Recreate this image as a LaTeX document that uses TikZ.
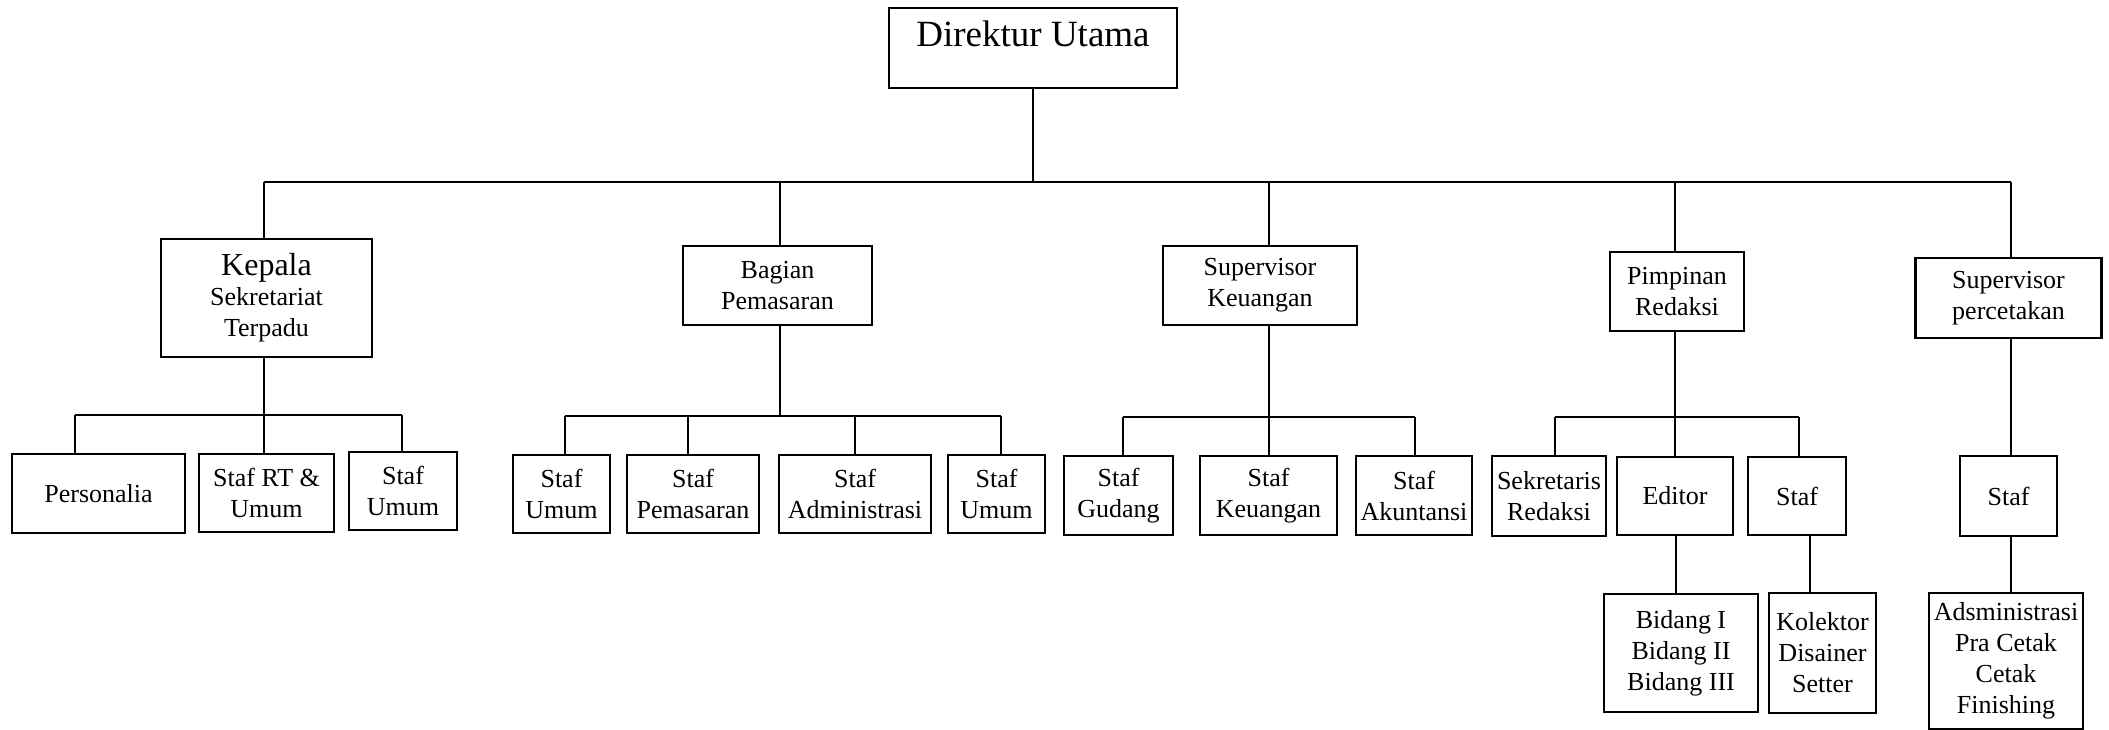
\documentclass[tikz,border=0pt]{standalone}
\usepackage{fontspec}
\setmainfont{Liberation Serif}
\begin{document}
\begin{tikzpicture}[x=1pt,y=-1pt,
  unit/.style={draw, line width=2.4pt, inner sep=0pt, align=center,
    font=\fontsize{26}{31}\selectfont},
  link/.style={line width=2pt}]
\useasboundingbox (0,0) rectangle (2109,730);

% ---- top ----
\node[unit, minimum width=288, minimum height=80] (dir) at (1033,48) {};
\node[font=\fontsize{37}{40}\selectfont, inner sep=0pt] (dirtext) at (1033,34) {Direktur Utama};

% ---- second level ----
\node[unit, minimum width=211, minimum height=118] (kep) at (266.5,298)
  {{\fontsize{32}{34}\selectfont Kepala}\\[-1pt]Sekretariat\\Terpadu};
\node[unit, minimum width=189, minimum height=79] (bag) at (777.5,285.5) {Bagian\\Pemasaran};
\node[unit, minimum width=194, minimum height=79] (sk) at (1260,285.5) {Supervisor\\Keuangan};
\node[unit, minimum width=134, minimum height=79] (pr) at (1677,291.5) {Pimpinan\\Redaksi};
\node[unit, minimum width=186, minimum height=80] (sp) at (2008.5,298) {Supervisor\\percetakan};

% ---- third level ----
\node[unit, minimum width=173, minimum height=79] (per) at (98.5,493.5) {Personalia};
\node[unit, minimum width=135, minimum height=78] (srt) at (266.5,493) {Staf RT \&\\Umum};
\node[unit, minimum width=108, minimum height=78] (su1) at (403,491) {Staf\\Umum};

\node[unit, minimum width=97, minimum height=78] (su2) at (561.5,494) {Staf\\Umum};
\node[unit, minimum width=132, minimum height=78] (spm) at (693,494) {Staf\\Pemasaran};
\node[unit, minimum width=152, minimum height=78] (sad) at (855,494) {Staf\\Administrasi};
\node[unit, minimum width=97, minimum height=78] (su3) at (996.5,494) {Staf\\Umum};

\node[unit, minimum width=109, minimum height=79] (sgd) at (1118.5,495.5) {Staf\\Gudang};
\node[unit, minimum width=137, minimum height=79] (skg) at (1268.5,495.5) {Staf\\Keuangan};
\node[unit, minimum width=116, minimum height=79] (sak) at (1414,495.5) {Staf\\Akuntansi};

\node[unit, minimum width=114, minimum height=80] (sek) at (1549,496) {Sekretaris\\Redaksi};
\node[unit, minimum width=116, minimum height=78] (edt) at (1675,496) {Editor};
\node[unit, minimum width=98, minimum height=78] (srd) at (1797,496) {Staf};

\node[unit, minimum width=97, minimum height=80] (spc) at (2008.5,496) {Staf};

% ---- fourth level ----
\node[unit, minimum width=154, minimum height=118] (bid) at (1681,653) {Bidang I\\Bidang II\\Bidang III};
\node[unit, minimum width=107, minimum height=120] (kol) at (1822.5,653) {Kolektor\\Disainer\\Setter};
\node[unit, minimum width=154, minimum height=136] (adm) at (2006,661) {Adsministrasi\\Pra Cetak\\Cetak\\Finishing};

% ---- main bus ----
\coordinate (busL) at (264,182);
\coordinate (busR) at (2011,182);
\coordinate (jbag) at (780,182);
\coordinate (jsk) at (1269,182);
\coordinate (jpr) at (1675,182);
\draw[link] (busL) -- (busR);
\draw[link] (dir.south) -- (dir.south |- busL);
\draw[link] (busL) -- (busL |- kep.north);
\draw[link] (jbag) -- (jbag |- bag.north);
\draw[link] (jsk) -- (jsk |- sk.north);
\draw[link] (jpr) -- (jpr |- pr.north);
\draw[link] (busR) -- (busR |- sp.north);

% ---- Kepala Sekretariat group ----
\coordinate (kL) at (75,415);
\coordinate (kJ) at (264,415);
\coordinate (kR) at (402,415);
\draw[link] (kL) -- (kR);
\draw[link] (kJ |- kep.south) -- (kJ);
\draw[link] (kL) -- (kL |- per.north);
\draw[link] (kJ) -- (kJ |- srt.north);
\draw[link] (kR) -- (kR |- su1.north);

% ---- Bagian Pemasaran group ----
\coordinate (bL) at (565,416);
\coordinate (bJ) at (780,416);
\coordinate (bA) at (688,416);
\coordinate (bB) at (855,416);
\coordinate (bR) at (1001,416);
\draw[link] (bL) -- (bR);
\draw[link] (bJ |- bag.south) -- (bJ);
\draw[link] (bL) -- (bL |- su2.north);
\draw[link] (bA) -- (bA |- spm.north);
\draw[link] (bB) -- (bB |- sad.north);
\draw[link] (bR) -- (bR |- su3.north);

% ---- Supervisor Keuangan group ----
\coordinate (sL) at (1123,417);
\coordinate (sJ) at (1269,417);
\coordinate (sR) at (1415,417);
\draw[link] (sL) -- (sR);
\draw[link] (sJ |- sk.south) -- (sJ);
\draw[link] (sL) -- (sL |- sgd.north);
\draw[link] (sJ) -- (sJ |- skg.north);
\draw[link] (sR) -- (sR |- sak.north);

% ---- Pimpinan Redaksi group ----
\coordinate (pL) at (1555,417);
\coordinate (pJ) at (1675,417);
\coordinate (pR) at (1799,417);
\draw[link] (pL) -- (pR);
\draw[link] (pJ |- pr.south) -- (pJ);
\draw[link] (pL) -- (pL |- sek.north);
\draw[link] (pJ) -- (pJ |- edt.north);
\draw[link] (pR) -- (pR |- srd.north);

% ---- Supervisor percetakan chain ----
\coordinate (cJ) at (2011,400);
\draw[link] (cJ |- sp.south) -- (cJ |- spc.north);
\draw[link] (cJ |- spc.south) -- (cJ |- adm.north);

% ---- lower branches ----
\coordinate (eJ) at (1676,560);
\coordinate (rJ) at (1810,560);
\draw[link] (eJ |- edt.south) -- (eJ |- bid.north);
\draw[link] (rJ |- srd.south) -- (rJ |- kol.north);
\end{tikzpicture}
\end{document}
